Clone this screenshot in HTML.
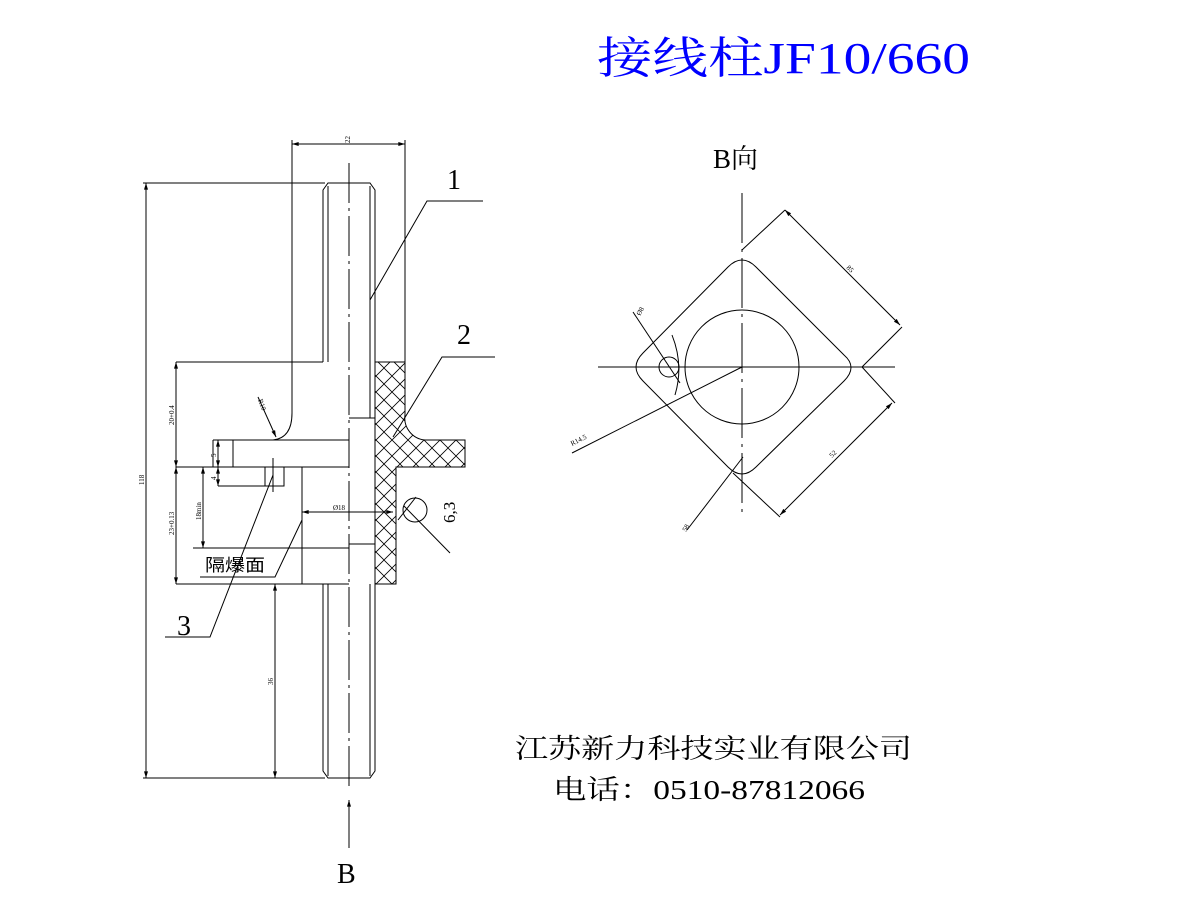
<!DOCTYPE html>
<html><head><meta charset="utf-8"><style>
html,body{margin:0;padding:0;background:#fff;width:1200px;height:900px;overflow:hidden}
svg{display:block}
</style></head><body>
<svg width="1200" height="900" viewBox="0 0 1200 900" xmlns="http://www.w3.org/2000/svg">
<defs>
<pattern id="h" width="16" height="16" patternUnits="userSpaceOnUse">
<path d="M0 0L16 16M16 0L0 16" stroke="#000" stroke-width="0.8"/>
</pattern>
<marker id="a" viewBox="0 0 10 6" refX="10" refY="3" markerWidth="7" markerHeight="4" orient="auto-start-reverse"><path d="M0 0L10 3L0 6z" fill="#000"/></marker>
</defs>
<text x="597" y="73" font-family="'Liberation Serif','Noto Serif CJK SC',serif" font-size="44" fill="#0000ff" textLength="373" lengthAdjust="spacingAndGlyphs">接线柱JF10/660</text>
<text x="713" y="168" font-family="'Liberation Serif','Noto Serif CJK SC',serif" font-size="27" fill="#000">B向</text>

<g stroke="#000" stroke-width="1" fill="none">
<line x1="292" y1="144" x2="405" y2="144" marker-start="url(#a)" marker-end="url(#a)"/>
<line x1="292" y1="140" x2="292" y2="413"/>
<path d="M292 413 Q292 438 273 440"/>
<line x1="405" y1="140" x2="405" y2="362"/>
<line x1="146" y1="183" x2="146" y2="778" marker-start="url(#a)" marker-end="url(#a)"/>
<line x1="143" y1="183" x2="325" y2="183"/>
<line x1="143" y1="778" x2="325" y2="778"/>
<path d="M323 362V190L328 183H370L375 190V362"/>
<line x1="328" y1="186" x2="328" y2="362"/>
<line x1="370" y1="186" x2="370" y2="418"/>
<path d="M323 584V771L328 778H370L375 771V584"/>
<line x1="328" y1="584" x2="328" y2="776"/>
<line x1="370" y1="584" x2="370" y2="776"/>
<line x1="349" y1="163" x2="349" y2="790" stroke-dasharray="40,5,3,5"/>
<line x1="176" y1="362" x2="323" y2="362"/>
<line x1="213" y1="440" x2="349" y2="440"/>
<line x1="176" y1="467" x2="349" y2="467"/>
<line x1="213" y1="440" x2="213" y2="467"/>
<line x1="233" y1="440" x2="233" y2="467"/>
<path d="M265 467V486H284V467"/>
<line x1="218" y1="486" x2="265" y2="486"/>
<line x1="273" y1="458" x2="273" y2="492"/>
<line x1="302" y1="467" x2="302" y2="584"/>
<line x1="193" y1="548" x2="349" y2="548"/>
<line x1="176" y1="584" x2="349" y2="584"/>
<line x1="349" y1="418" x2="375" y2="418"/>
<line x1="349" y1="544" x2="375" y2="544"/>
<line x1="375" y1="362" x2="375" y2="584"/>
<path d="M375 362H405V415A22 22 0 0 0 425 440H465V467H396V584H375Z" fill="url(#h)"/>
<line x1="176" y1="362" x2="176" y2="467" marker-start="url(#a)" marker-end="url(#a)"/>
<line x1="176" y1="467" x2="176" y2="584" marker-start="url(#a)" marker-end="url(#a)"/>
<line x1="203" y1="467" x2="203" y2="548" marker-start="url(#a)" marker-end="url(#a)"/>
<line x1="218" y1="440" x2="218" y2="467" marker-start="url(#a)" marker-end="url(#a)"/>
<line x1="218" y1="467" x2="218" y2="486" marker-start="url(#a)" marker-end="url(#a)"/>
<line x1="275" y1="584" x2="275" y2="778" marker-start="url(#a)" marker-end="url(#a)"/>
<line x1="302" y1="512" x2="393" y2="512" marker-start="url(#a)" marker-end="url(#a)"/>
<line x1="258" y1="397" x2="276" y2="437" marker-end="url(#a)"/>
<circle cx="415" cy="510" r="12"/>
<line x1="416" y1="497" x2="398" y2="520"/>
<line x1="404" y1="506" x2="450" y2="553"/>
<path d="M370 300L427 201H483"/>
<path d="M393 437L442 357H495"/>
<path d="M273 475L210 637H165"/>
<path d="M302 520L275 577H200"/>
<line x1="349" y1="848" x2="349" y2="800" marker-end="url(#a)"/>

<line x1="598" y1="367" x2="895" y2="367"/>
<line x1="742" y1="193" x2="742" y2="515" stroke-dasharray="50,6,3,6"/>
<circle cx="742" cy="367" r="57"/>
<circle cx="669" cy="367" r="10"/>
<path d="M728 267Q742 253 756 267L844 355Q858 367 844 381L756 467Q742 481 728 467L643 381Q629 367 643 353Z"/>
<path d="M672 335Q684 365 675 395"/>
<line x1="742" y1="250" x2="785" y2="210"/>
<line x1="862" y1="367" x2="902" y2="327"/>
<line x1="785" y1="210" x2="900" y2="325" marker-start="url(#a)" marker-end="url(#a)"/>
<line x1="862" y1="367" x2="895" y2="403"/>
<line x1="733" y1="473" x2="780" y2="517"/>
<line x1="892" y1="403" x2="780" y2="515" marker-start="url(#a)" marker-end="url(#a)"/>
<line x1="742" y1="367" x2="572" y2="453"/>
<line x1="633" y1="312" x2="680" y2="383"/>
<line x1="687" y1="530" x2="743" y2="457"/>
</g>

<g font-family="'Liberation Serif','Noto Serif CJK SC',serif" fill="#000">
<text x="447" y="189" font-size="28">1</text>
<text x="457" y="344" font-size="28">2</text>
<text x="177" y="635" font-size="28">3</text>
<text x="337" y="883" font-size="28">B</text>
<text x="205" y="571" font-size="17" font-family="'Liberation Sans','Noto Sans CJK SC',sans-serif" textLength="60" lengthAdjust="spacingAndGlyphs">隔爆面</text>
<text transform="translate(455,523) rotate(-90)" font-size="17">6,3</text>
<text x="515" y="758" font-size="27" textLength="397" lengthAdjust="spacingAndGlyphs">江苏新力科技实业有限公司</text>
<text x="553" y="799" font-size="27" textLength="312" lengthAdjust="spacingAndGlyphs">电话：0510-87812066</text>
<g font-size="7">
<text transform="translate(350,143) rotate(-90)">22</text>
<text transform="translate(144,485) rotate(-90)">118</text>
<text transform="translate(174,425) rotate(-90)">20+0.4</text>
<text transform="translate(174,535) rotate(-90)">23+0.13</text>
<text transform="translate(201,520) rotate(-90)">18min</text>
<text transform="translate(216,457) rotate(-90)">5</text>
<text transform="translate(216,480) rotate(-90)">4</text>
<text transform="translate(273,685) rotate(-90)">36</text>
<text transform="translate(258,400) rotate(70)">R10</text>
<text x="333" y="510">Ø18</text>
<text x="846" y="268" transform="rotate(45 846 268)">85</text>
<text x="832" y="458" transform="rotate(-45 832 458)">52</text>
<text x="640" y="316" transform="rotate(-60 640 316)">Ø8</text>
<text x="572" y="446" transform="rotate(-27 572 446)">R14.5</text>
<text x="686" y="532" transform="rotate(-60 686 532)">58</text>
</g>
</g>
</svg>
</body></html>
